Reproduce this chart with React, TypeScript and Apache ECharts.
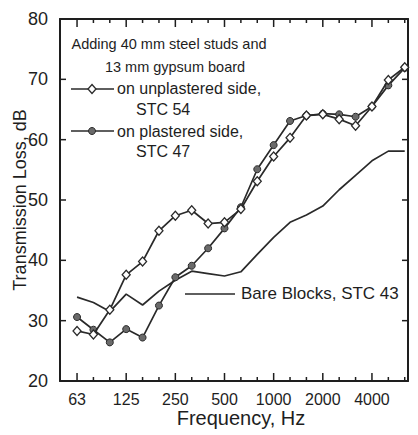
import React, { useEffect, useRef } from "react";
import * as echarts from "echarts";

// 1/3-octave band centre frequencies (Hz)
const freqLabels = ["63", "80", "100", "125", "160", "200", "250", "315", "400", "500", "630", "800", "1000", "1250", "1600", "2000", "2500", "3150", "4000", "5000", "6300"];
// Labelled (octave) ticks
const octaveLabels = ["63", "125", "250", "500", "1000", "2000", "4000"];
// Y ticks (dB)
const yTickValues = [30, 40, 50, 60, 70];

// Transmission loss, dB
const bareBlocks = [33.9, 33.0, 31.5, 34.4, 32.6, 34.9, 36.7, 38.2, 37.8, 37.4, 38.1, 41.0, 43.8, 46.3, 47.5, 49.0, 51.7, 54.1, 56.5, 58.1, 58.1];
const unplastered = [28.3, 27.7, 31.8, 37.6, 39.8, 44.9, 47.4, 48.3, 46.1, 46.3, 48.5, 53.1, 57.2, 60.3, 64.0, 64.2, 63.4, 62.3, 65.5, 69.9, 72.0];
const plastered = [30.6, 28.5, 26.4, 28.6, 27.2, 32.5, 37.2, 39.1, 42.0, 45.3, 48.8, 55.1, 59.1, 63.1, 64.0, 64.3, 64.2, 63.8, 65.5, 69.0, 71.9];

const FONT = "'Liberation Sans', Arial, Helvetica, sans-serif";
const INK = "#1e1e1e";
const X_MIN = -1.04;
const X_MAX = 20.2;
const Y_MIN = 20;
const Y_MAX = 80;

export default function App() {
  const ref = useRef<HTMLDivElement>(null);

  useEffect(() => {
    if (!ref.current) return;
    const chart = echarts.init(ref.current, undefined, { renderer: "svg" });

    const majorIdx = octaveLabels.map((l) => freqLabels.indexOf(l));
    const toPairs = (arr: number[]) => arr.map((v, i) => [i, v]);
    const xTickData = freqLabels.map((_, i) => [i, Y_MIN, majorIdx.includes(i) ? 1 : 0]);
    const yTickData = yTickValues.map((v) => [X_MIN, v]);

    const tickStyle = { stroke: INK, lineWidth: 1.5 };

    const option: any = {
      animation: false,
      backgroundColor: "#ffffff",
      textStyle: { fontFamily: FONT, color: INK },
      grid: { left: 60, right: 10, top: 19, bottom: 54, outerBoundsMode: "none", containLabel: false },
      xAxis: [
        {
          type: "value",
          min: X_MIN,
          max: X_MAX,
          position: "bottom",
          name: "Frequency, Hz",
          nameLocation: "middle",
          nameGap: 27,
          nameMoveOverlap: false,
          nameTextStyle: { fontSize: 20, color: INK, fontFamily: FONT, padding: [0, 0, 0, 14] },
          axisLine: { show: true, onZero: false, lineStyle: { color: INK, width: 2 } },
          axisTick: { show: false },
          axisLabel: {
            show: true,
            customValues: majorIdx,
            formatter: (v: number) => freqLabels[Math.round(v)] ?? "",
            fontSize: 16,
            color: INK,
            fontFamily: FONT,
            margin: 10,
          },
          splitLine: { show: false },
        },
        {
          type: "value",
          min: X_MIN,
          max: X_MAX,
          position: "top",
          axisLine: { show: true, onZero: false, lineStyle: { color: INK, width: 2 } },
          axisTick: { show: false },
          axisLabel: { show: false },
          splitLine: { show: false },
        },
      ],
      yAxis: [
        {
          type: "value",
          position: "left",
          min: Y_MIN,
          max: Y_MAX,
          interval: 10,
          name: "Transmission Loss, dB",
          nameLocation: "middle",
          nameGap: 31,
          nameMoveOverlap: false,
          nameRotate: 90,
          nameTextStyle: { fontSize: 18, color: INK, fontFamily: FONT },
          axisLine: { show: true, onZero: false, lineStyle: { color: INK, width: 2 } },
          axisTick: { show: false },
          axisLabel: { fontSize: 18, color: INK, fontFamily: FONT, margin: 12 },
          splitLine: { show: false },
        },
        {
          type: "value",
          position: "right",
          min: Y_MIN,
          max: Y_MAX,
          interval: 10,
          axisLine: { show: true, onZero: false, lineStyle: { color: INK, width: 2 } },
          axisTick: { show: false },
          axisLabel: { show: false },
          splitLine: { show: false },
        },
      ],
      series: [
        {
          name: "x ticks",
          type: "custom",
          silent: true,
          clip: false,
          z: 1,
          data: xTickData,
          encode: { x: 0, y: 1 },
          renderItem: (params: any, api: any) => {
            const v = api.value(0);
            const len = api.value(2) ? 8 : 4;
            const b = api.coord([v, Y_MIN]);
            const t = api.coord([v, Y_MAX]);
            return {
              type: "group",
              children: [
                { type: "line", shape: { x1: b[0], y1: b[1], x2: b[0], y2: b[1] - len }, style: tickStyle },
                { type: "line", shape: { x1: t[0], y1: t[1], x2: t[0], y2: t[1] + len }, style: tickStyle },
              ],
            };
          },
        },
        {
          name: "y ticks",
          type: "custom",
          silent: true,
          clip: false,
          z: 1,
          data: yTickData,
          encode: { x: 0, y: 1 },
          renderItem: (params: any, api: any) => {
            const v = api.value(1);
            const l = api.coord([X_MIN, v]);
            const r = api.coord([X_MAX, v]);
            return {
              type: "group",
              children: [
                { type: "line", shape: { x1: l[0], y1: l[1], x2: l[0] + 6, y2: l[1] }, style: tickStyle },
                { type: "line", shape: { x1: r[0], y1: r[1], x2: r[0] - 6, y2: r[1] }, style: tickStyle },
              ],
            };
          },
        },
        {
          name: "Bare Blocks, STC 43",
          type: "line",
          data: toPairs(bareBlocks),
          symbol: "none",
          lineStyle: { color: "#2a2a2a", width: 1.7 },
          z: 2,
        },
        {
          name: "on plastered side, STC 47",
          type: "line",
          data: toPairs(plastered),
          symbol: "circle",
          symbolSize: 7,
          lineStyle: { color: "#2a2a2a", width: 1.7 },
          itemStyle: { color: "#6a6a6a", borderColor: "#2a2a2a", borderWidth: 1 },
          z: 3,
        },
        {
          name: "on unplastered side, STC 54",
          type: "line",
          data: toPairs(unplastered),
          symbol: "diamond",
          symbolSize: [8, 9],
          lineStyle: { color: "#2a2a2a", width: 1.7 },
          itemStyle: { color: "#ffffff", borderColor: "#2a2a2a", borderWidth: 1.3 },
          z: 4,
        },
      ],
      graphic: [
        { type: "text", x: 169, y: 44, style: { text: "Adding 40 mm steel studs and", fontSize: 14.5, fontFamily: FONT, fill: INK, align: "center", verticalAlign: "middle" } },
        { type: "text", x: 175, y: 67, style: { text: "13 mm gypsum board", fontSize: 14.5, fontFamily: FONT, fill: INK, align: "center", verticalAlign: "middle" } },
        { type: "line", shape: { x1: 71, y1: 89, x2: 114, y2: 89 }, style: { stroke: "#2a2a2a", lineWidth: 1.6 } },
        { type: "polygon", shape: { points: [[92, 84.5], [96, 89], [92, 93.5], [88, 89]] }, style: { fill: "#ffffff", stroke: "#2a2a2a", lineWidth: 1.3 } },
        { type: "text", x: 117, y: 88, style: { text: "on unplastered side,", fontSize: 16, fontFamily: FONT, fill: INK, align: "left", verticalAlign: "middle" } },
        { type: "text", x: 136, y: 109, style: { text: "STC 54", fontSize: 16, fontFamily: FONT, fill: INK, align: "left", verticalAlign: "middle" } },
        { type: "line", shape: { x1: 71, y1: 131, x2: 114, y2: 131 }, style: { stroke: "#2a2a2a", lineWidth: 1.6 } },
        { type: "circle", shape: { cx: 92, cy: 131, r: 3.5 }, style: { fill: "#6a6a6a", stroke: "#2a2a2a", lineWidth: 1 } },
        { type: "text", x: 117, y: 131, style: { text: "on plastered side,", fontSize: 16, fontFamily: FONT, fill: INK, align: "left", verticalAlign: "middle" } },
        { type: "text", x: 136, y: 151, style: { text: "STC 47", fontSize: 16, fontFamily: FONT, fill: INK, align: "left", verticalAlign: "middle" } },
        { type: "line", shape: { x1: 185, y1: 294, x2: 235, y2: 294 }, style: { stroke: "#2a2a2a", lineWidth: 1.6 } },
        { type: "text", x: 241, y: 293, style: { text: "Bare Blocks, STC 43", fontSize: 17, fontFamily: FONT, fill: INK, align: "left", verticalAlign: "middle" } },
      ],
    };

    chart.setOption(option);
    return () => chart.dispose();
  }, []);

  return <div ref={ref} style={{ position: "fixed", left: 0, top: 0, width: 418, height: 435, background: "#fff" }} />;
}
